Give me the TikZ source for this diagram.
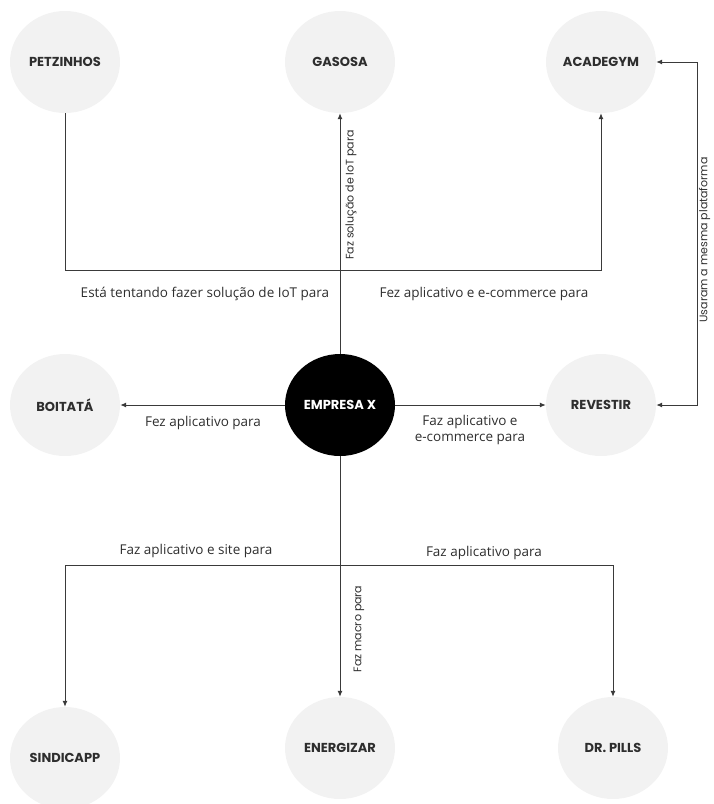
\documentclass[tikz,border=0pt]{standalone}
\usepackage{fontspec}
\usetikzlibrary{shapes.geometric,arrows.meta}
\newfontfamily\nodefont{Poppins}
\newfontfamily\labfont{Open Sans}
\definecolor{bubble}{HTML}{F2F2F2}
\definecolor{ink}{HTML}{2E2E2E}
\definecolor{wire}{HTML}{3A3A3A}
\begin{document}
\begin{tikzpicture}[x=1pt,y=-1pt,
  bub/.style={ellipse,fill=bubble,draw=none,minimum width=110pt,minimum height=102pt,inner sep=0pt,
    font=\nodefont\bfseries\fontsize{13}{15}\selectfont,text=ink},
  hub/.style={bub,fill=black,text=white},
  conn/.style={draw=wire,line width=1pt},
  arr/.style={conn,-{Latex[length=6pt,width=5pt]}},
  dbl/.style={conn,{Latex[length=6pt,width=5pt]}-{Latex[length=6pt,width=5pt]}},
  lab/.style={font=\labfont\fontsize{13.5}{15.5}\selectfont,text=ink,inner sep=0pt},
  vlab/.style={font=\nodefont\fontsize{11}{13}\selectfont,text=ink,inner sep=0pt,rotate=90}]
\useasboundingbox (0,0) rectangle (713,804);
% nodes
\node[bub] (pet) at (65,62) {PETZINHOS};
\node[bub] (gas) at (340,62) {GASOSA};
\node[bub] (aca) at (601,62) {ACADEGYM};
\node[bub] (boi) at (65,405) {BOITATÁ};
\node[hub] (emp) at (340,405) {EMPRESA X};
\node[bub] (rev) at (601,405) {REVESTIR};
\node[bub] (sin) at (65,758) {SINDICAPP};
\node[bub] (ene) at (340,748) {ENERGIZAR};
\node[bub] (dr) at (613,748) {DR. PILLS};
% corner coordinates
\coordinate (tl) at (65,270);
\coordinate (tr) at (601,270);
\coordinate (ra) at (697,62);
\coordinate (rb) at (697,405);
\coordinate (bl) at (65,565);
\coordinate (br) at (613,565);
% connectors
\draw[arr] (pet.south) -- (tl) -- (tr) -- (aca.south);
\draw[arr] (emp.north) -- (gas.south);
\draw[arr] (emp.west) -- (boi.east);
\draw[arr] (emp.east) -- (rev.west);
\draw[dbl] (aca.east) -- (ra) -- (rb) -- (rev.east);
\draw[arr] (emp.south) -- (ene.north);
\draw[conn] (bl) -- (br);
\draw[arr] (bl) -- (sin.north);
\draw[arr] (br) -- (dr.north);
% labels
\node[lab] (l1) at (205,294) {Está tentando fazer solução de IoT para};
\node[lab] (l2) at (484,294) {Fez aplicativo e e-commerce para};
\node[lab] (l3) at (203,423) {Fez aplicativo para};
\node[lab,align=center] (l4) at (470,430) {Faz aplicativo e\\e-commerce para};
\node[lab] (l5) at (196,551) {Faz aplicativo e site para};
\node[lab] (l6) at (484,553) {Faz aplicativo para};
\node[vlab] (v1) at (351,195) {Faz solução de IoT para};
\node[vlab] (v2) at (359,629) {Faz macro para};
\node[vlab] (v3) at (704.5,240) {Usaram a mesma plataforma};
\end{tikzpicture}
\end{document}
